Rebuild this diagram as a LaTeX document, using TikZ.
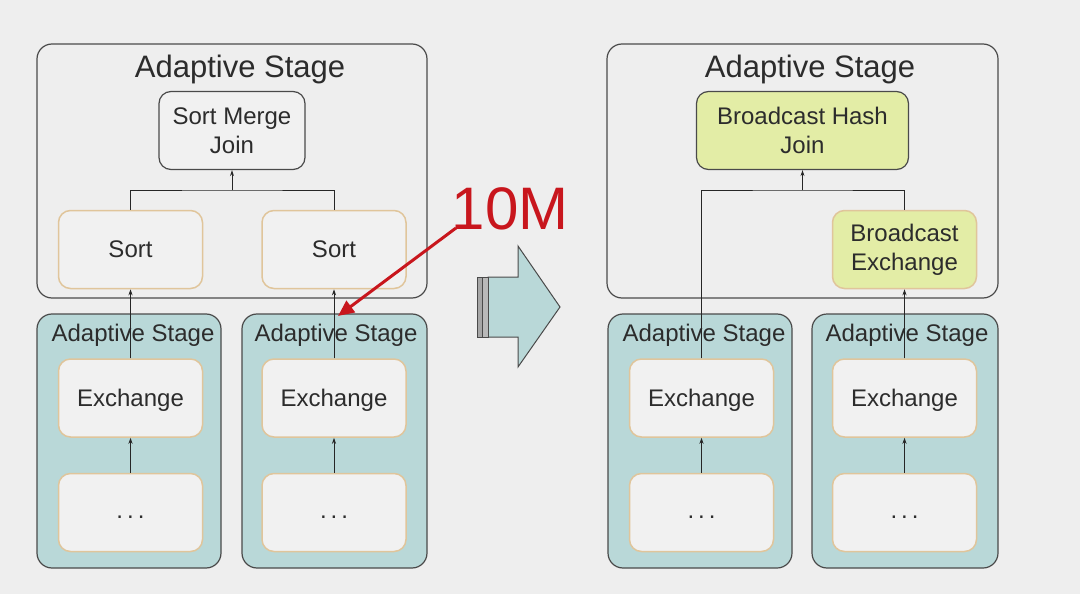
\documentclass[tikz,border=0pt]{standalone}
\usepackage{fontspec}
\setmainfont{Liberation Sans}
\usetikzlibrary{arrows.meta}
\definecolor{bg}{HTML}{EEEEEE}
\definecolor{txt}{HTML}{2C2C2C}
\definecolor{teal}{HTML}{B9D8D8}
\definecolor{tan}{HTML}{E0C59B}
\definecolor{ygreen}{HTML}{E3EDA6}
\definecolor{boxfill}{HTML}{F1F1F1}
\definecolor{edge}{HTML}{4A4A4A}
\definecolor{redc}{HTML}{C8161D}
\newcommand{\mydots}{\raisebox{-6pt}[0pt][0pt]{.\hspace{4pt}.\hspace{4pt}.}}
\newcommand{\exch}{\raisebox{-8.5pt}[0pt][0pt]{Exchange}}
\tikzset{
  outerbox/.style={draw=edge, line width=1.2pt, rounded corners=15pt, inner sep=0pt},
  tealbox/.style={outerbox, fill=teal},
  opbox/.style={draw=tan, line width=1.5pt, fill=boxfill, rounded corners=12pt, inner sep=0pt, minimum width=144pt, minimum height=78pt, align=center, text=txt, font=\fontsize{24}{29}\selectfont},
  joinbox/.style={opbox, draw=edge, line width=1.2pt},
  bigtitle/.style={text=txt, font=\fontsize{31}{36}\selectfont, inner sep=0pt},
  smalltitle/.style={text=txt, font=\fontsize{24}{28}\selectfont, inner sep=0pt},
  conn/.style={draw=black!85, line width=1pt},
  arr/.style={conn, -{Stealth[length=6pt,width=4pt]}},
}
\begin{document}
\begin{tikzpicture}[x=1pt,y=-1pt]
\fill[bg] (0,0) rectangle (1080,594);
\useasboundingbox (0,0) rectangle (1080,594);

% ---------- LEFT ----------
\draw[outerbox] (37,44) rectangle (427,298);
\node[bigtitle] (lt) at (240,69) {Adaptive Stage};
\draw[tealbox] (37,314) rectangle (221,568);
\draw[tealbox] (242,314) rectangle (427,568);
\node[smalltitle] (la1) at (133,335) {Adaptive Stage};
\node[smalltitle] (la2) at (336,335) {Adaptive Stage};

\node[joinbox, minimum width=146pt] (smj) at (232,130.5) {Sort Merge\\Join};
\node[opbox] (s1) at (130.5,249.5) {Sort};
\node[opbox] (s2) at (334,249.5) {Sort};
\node[opbox] (e1) at (130.5,398) {\exch};
\node[opbox] (e2) at (334,398) {\exch};
\node[opbox] (d1) at (130.5,512.5) {\mydots};
\node[opbox] (d2) at (334,512.5) {\mydots};

\coordinate (lj) at (232,190);
\draw[arr] (lj) -- (smj.south);
\draw[conn] (s1.north) |- (lj) -| (s2.north);
\draw[arr] (e1.north) -- (s1.south);
\draw[arr] (e2.north) -- (s2.south);
\draw[arr] (d1.north) -- (e1.south);
\draw[arr] (d2.north) -- (e2.south);

% red annotation
\node[text=redc, font=\fontsize{60}{60}\selectfont, inner sep=0pt] (tenm) at (510,209) {10M};
\coordinate (rs) at (456,228);
\coordinate (re) at (338,316);
\draw[redc, line width=3pt, -{Triangle[length=16pt,width=14pt]}] (rs) -- (re);

% ---------- MIDDLE BLOCK ARROW ----------
\draw[edge, line width=1pt, fill=teal] (488,277) -- (518,277) -- (518,246) -- (560,307) -- (518,367) -- (518,337) -- (488,337) -- cycle;
\draw[edge, line width=0.8pt, fill=gray!70] (477,277) rectangle (482,337);
\draw[edge, line width=0.8pt, fill=gray!55] (482.5,277) rectangle (488,337);

% ---------- RIGHT ----------
\draw[outerbox] (607,44) rectangle (998,298);
\node[bigtitle] (rt) at (810,69) {Adaptive Stage};
\draw[tealbox] (608,314) rectangle (792,568);
\draw[tealbox] (812,314) rectangle (998,568);
\node[smalltitle] (ra1) at (704,335) {Adaptive Stage};
\node[smalltitle] (ra2) at (907,335) {Adaptive Stage};

\node[joinbox, fill=ygreen, minimum width=212pt] (bhj) at (802.5,130.5) {Broadcast Hash\\Join};
\node[opbox, fill=ygreen] (be) at (904.5,249.5) {Broadcast\\Exchange};
\node[opbox] (e3) at (701.5,398) {\exch};
\node[opbox] (e4) at (904.5,398) {\exch};
\node[opbox] (d3) at (701.5,512.5) {\mydots};
\node[opbox] (d4) at (904.5,512.5) {\mydots};

\coordinate (rj) at (802.5,190);
\draw[arr] (rj) -- (bhj.south);
\draw[conn] (e3.north) |- (rj) -| (be.north);
\draw[arr] (e4.north) -- (be.south);
\draw[arr] (d3.north) -- (e3.south);
\draw[arr] (d4.north) -- (e4.south);
\end{tikzpicture}
\end{document}
